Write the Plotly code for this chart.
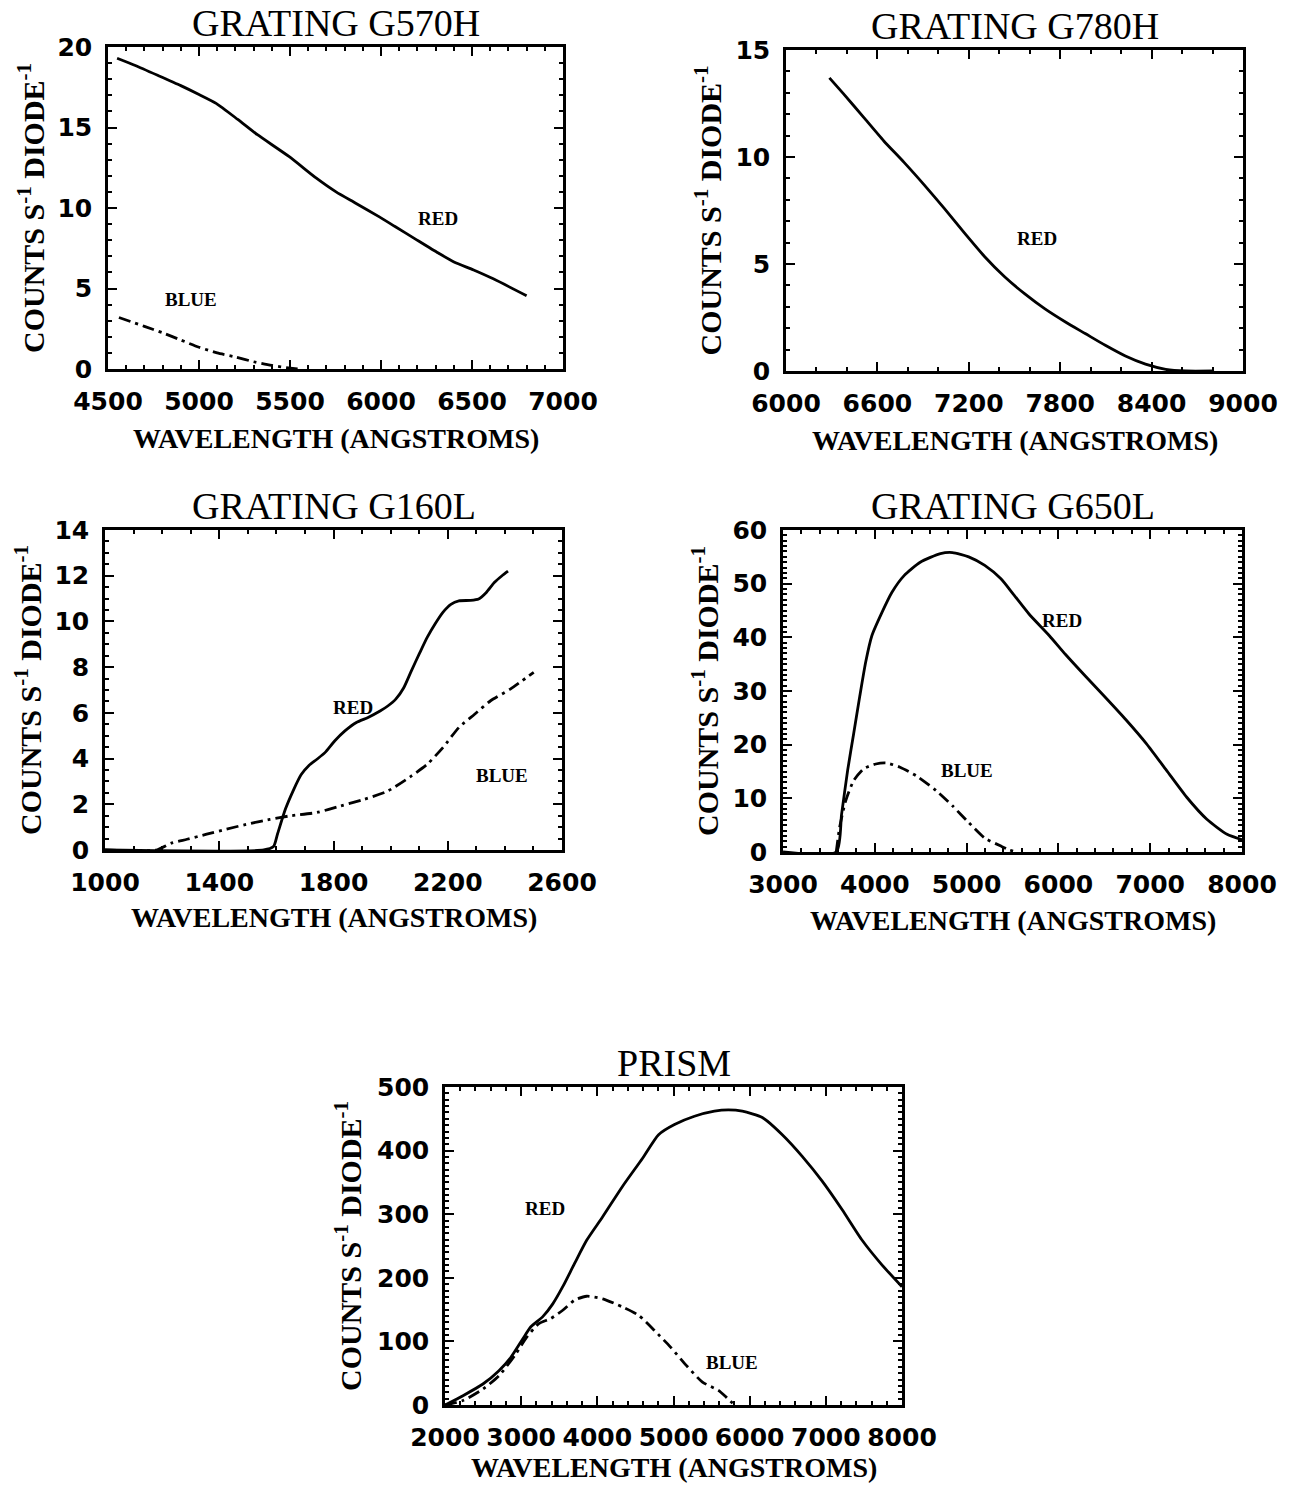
import plotly.graph_objects as go

# ---------------------------------------------------------------------------
# Count rates (counts s^-1 diode^-1) versus wavelength (Angstroms)
# ---------------------------------------------------------------------------
G570H_RED_WL = [4550, 4650, 4781, 4900, 5000, 5094, 5213, 5321, 5494, 5645,
                5753, 5861, 5991, 6077, 6185, 6315, 6401, 6509, 6617, 6800]
G570H_RED_CNT = [19.3, 18.85, 18.2, 17.6, 17.05, 16.5, 15.5, 14.55, 13.2, 11.85,
                 11.0, 10.3, 9.45, 8.85, 8.1, 7.2, 6.65, 6.15, 5.6, 4.55]
G570H_BLUE_WL = [4560, 4700, 4800, 4900, 5000, 5100, 5200, 5300, 5400, 5500, 5560]
G570H_BLUE_CNT = [3.2, 2.65, 2.25, 1.8, 1.35, 1.0, 0.75, 0.45, 0.22, 0.05, 0.0]

G780H_RED_WL = [6285, 6378, 6510, 6642, 6775, 6907, 7039, 7171, 7303, 7435,
                7568, 7700, 7832, 7964, 8096, 8228, 8360, 8493, 8625, 8810]
G780H_RED_CNT = [13.7, 12.95, 11.85, 10.75, 9.75, 8.7, 7.6, 6.45, 5.35, 4.4,
                 3.6, 2.9, 2.3, 1.75, 1.2, 0.7, 0.32, 0.08, 0.0, 0.0]

G160L_RED_WL = [1000, 1556, 1590, 1604, 1632, 1659, 1687, 1714, 1742, 1770,
                1804, 1839, 1880, 1921, 1963, 1990, 2018, 2046, 2073, 2101,
                2128, 2156, 2183, 2211, 2239, 2280, 2308, 2335, 2363, 2390, 2411]
G160L_RED_CNT = [0, 0, 0.15, 0.7, 1.8, 2.6, 3.3, 3.7, 3.97, 4.26,
                 4.77, 5.2, 5.58, 5.8, 6.08, 6.3, 6.6, 7.1, 7.85, 8.6,
                 9.3, 9.9, 10.4, 10.75, 10.9, 10.92, 10.98, 11.27, 11.7, 12.0, 12.2]
G160L_BLUE_WL = [1000, 1180, 1232, 1287, 1356, 1425, 1494, 1577, 1646, 1742,
                 1825, 1908, 1990, 2073, 2128, 2183, 2239, 2294, 2350, 2419, 2501]
G160L_BLUE_CNT = [0, 0, 0.3, 0.47, 0.69, 0.91, 1.12, 1.34, 1.49, 1.64,
                  1.93, 2.22, 2.58, 3.24, 3.75, 4.48, 5.36, 5.94, 6.53, 7.04, 7.77]

G650L_RED_WL = [3000, 3580, 3638, 3704, 3770, 3836, 3902, 3968, 4077, 4187,
                4319, 4495, 4715, 4846, 5023, 5198, 5374, 5506, 5682, 5902,
                6078, 6298, 6518, 6738, 6958, 7178, 7398, 7617, 7837, 8000]
G650L_RED_CNT = [0, 0, 7.0, 15.2, 22.1, 29.0, 35.5, 40.3, 44.6, 48.4,
                 51.5, 54.0, 55.6, 55.8, 55.0, 53.4, 50.9, 48.1, 44.3, 40.3,
                 36.8, 32.7, 28.7, 24.6, 20.2, 15.2, 10.2, 6.1, 3.3, 2.3]
G650L_BLUE_WL = [3580, 3616, 3682, 3770, 3880, 4011, 4121, 4275, 4451, 4671,
                 4846, 5023, 5198, 5374, 5462, 5550]
G650L_BLUE_CNT = [0, 4.5, 9.5, 13.3, 15.5, 16.4, 16.6, 15.8, 14.2, 11.4,
                  8.6, 5.5, 2.6, 1.1, 0.4, 0.0]

PRISM_RED_WL = [2000, 2236, 2498, 2708, 2865, 3022, 3127, 3284, 3415, 3546,
                3703, 3860, 4070, 4332, 4594, 4804, 5013, 5275, 5537, 5720,
                5904, 6166, 6428, 6690, 6952, 7215, 7477, 7739, 8000]
PRISM_RED_CNT = [0, 14.7, 33, 54, 75, 104, 123, 139, 159, 186,
                 223, 259, 296, 344, 388, 425, 441, 454, 462, 464,
                 462, 452, 425, 391, 352, 307, 259, 220, 186]
PRISM_BLUE_WL = [2000, 2236, 2498, 2708, 2917, 3075, 3232, 3389, 3546, 3703,
                 3860, 4070, 4332, 4542, 4752, 4961, 5171, 5380, 5590, 5695, 5800]
PRISM_BLUE_CNT = [0, 7, 25, 46, 78, 107, 128, 136, 149, 165,
                  171, 167, 154, 141, 117, 91, 62, 36, 23, 12, 0]

TITLES = ["GRATING G570H", "GRATING G780H", "GRATING G160L", "GRATING G650L", "PRISM"]
X_TITLE = "WAVELENGTH (ANGSTROMS)"
Y_TITLE = "COUNTS S<sup>-1</sup> DIODE<sup>-1</sup>"

# ---------------------------------------------------------------------------
# Page geometry (pixels) and styling
# ---------------------------------------------------------------------------
W, H = 1295, 1487
SERIF = "Liberation Serif"
TICK_FONT = dict(family="DejaVu Sans", size=25, color="black", weight="bold")
DASHDOT = "12px,5px,3px,5px"


def px_x(v):
    return v / W


def px_y(v):
    return 1 - v / H


PANELS = [
    dict(box=(108, 47, 563, 369), xr=(4500, 7000), xd=500, xm=100, yr=(0, 20), yd=5, ym=1,
         ytitle_x=31, xtitle_dy=69,
         series=[(G570H_RED_WL, G570H_RED_CNT, "solid"), (G570H_BLUE_WL, G570H_BLUE_CNT, DASHDOT)],
         labels=[("RED", 6315, 9.36), ("BLUE", 4954, 4.3)]),
    dict(box=(786, 50, 1243, 371), xr=(6000, 9000), xd=600, xm=200, yr=(0, 15), yd=5, ym=1,
         ytitle_x=709, xtitle_dy=69,
         series=[(G780H_RED_WL, G780H_RED_CNT, "solid")],
         labels=[("RED", 7647, 6.2)]),
    dict(box=(105, 530, 562, 850), xr=(1000, 2600), xd=400, xm=100, yr=(0, 14), yd=2, ym=0.5,
         ytitle_x=28, xtitle_dy=68,
         series=[(G160L_RED_WL, G160L_RED_CNT, "solid"), (G160L_BLUE_WL, G160L_BLUE_CNT, DASHDOT)],
         labels=[("RED", 1870, 6.23), ("BLUE", 2390, 3.24)]),
    dict(box=(783, 530, 1242, 852), xr=(3000, 8000), xd=1000, xm=200, yr=(0, 60), yd=10, ym=1,
         ytitle_x=705, xtitle_dy=68,
         series=[(G650L_RED_WL, G650L_RED_CNT, "solid"), (G650L_BLUE_WL, G650L_BLUE_CNT, DASHDOT)],
         labels=[("RED", 6034, 43.1), ("BLUE", 5001, 15.2)]),
    dict(box=(445, 1087, 902, 1405), xr=(2000, 8000), xd=1000, xm=200, yr=(0, 500), yd=100, ym=10,
         ytitle_x=348, xtitle_dy=62,
         series=[(PRISM_RED_WL, PRISM_RED_CNT, "solid"), (PRISM_BLUE_WL, PRISM_BLUE_CNT, DASHDOT)],
         labels=[("RED", 3310, 309), ("BLUE", 5773, 67)]),
]

fig = go.Figure()
annotations = []


def axis_style(rng, dtick, minor_dtick, standoff):
    return dict(
        range=list(rng), dtick=dtick, tick0=rng[0], autorange=False, automargin=False,
        showline=True, linecolor="black", linewidth=2.5, mirror="allticks",
        ticks="inside", ticklen=9, tickwidth=2, tickcolor="black",
        showgrid=False, zeroline=False, tickfont=TICK_FONT, ticklabelstandoff=standoff,
        minor=dict(ticks="inside", ticklen=4, tickwidth=1.5, tickcolor="black",
                   dtick=minor_dtick, tick0=rng[0], showgrid=False),
        fixedrange=True,
    )


for i, (p, title) in enumerate(zip(PANELS, TITLES), start=1):
    sfx = "" if i == 1 else str(i)
    xa, ya = "x" + sfx, "y" + sfx
    left, top, right, bottom = p["box"]

    for wl, cnt, dash in p["series"]:
        fig.add_trace(go.Scatter(
            x=wl, y=cnt, mode="lines", xaxis=xa, yaxis=ya,
            line=dict(color="black", width=2.8, dash=dash, shape="spline", smoothing=0.6),
            hoverinfo="skip", showlegend=False,
        ))

    xax = axis_style(p["xr"], p["xd"], p["xm"], 8)
    xax.update(domain=[px_x(left), px_x(right)], anchor=ya)
    yax = axis_style(p["yr"], p["yd"], p["ym"], 8)
    yax.update(domain=[px_y(bottom), px_y(top)], anchor=xa)
    fig.layout["xaxis" + sfx] = xax
    fig.layout["yaxis" + sfx] = yax

    cx = (left + right) / 2
    cy = (top + bottom) / 2
    # panel title
    annotations.append(dict(
        text=title, x=px_x(cx), y=px_y(top - 24), xref="paper", yref="paper",
        xanchor="center", yanchor="middle", showarrow=False,
        font=dict(family=SERIF, size=38, color="black"),
    ))
    # x-axis title
    annotations.append(dict(
        text=X_TITLE, x=px_x(cx), y=px_y(bottom + p["xtitle_dy"]), xref="paper", yref="paper",
        xanchor="center", yanchor="middle", showarrow=False,
        font=dict(family=SERIF, size=28, color="black", weight="bold"),
    ))
    # y-axis title
    annotations.append(dict(
        text=Y_TITLE, x=px_x(p["ytitle_x"]), y=px_y(cy), xref="paper", yref="paper",
        xanchor="center", yanchor="middle", textangle=-90, showarrow=False,
        font=dict(family=SERIF, size=30, color="black", weight="bold"),
    ))
    # curve labels
    for text, lx, ly in p["labels"]:
        annotations.append(dict(
            text=text, x=lx, y=ly, xref=xa, yref=ya,
            xanchor="center", yanchor="middle", showarrow=False,
            font=dict(family=SERIF, size=19, color="black", weight="bold"),
        ))

fig.update_layout(
    template="none",
    width=W, height=H,
    margin=dict(l=0, r=0, t=0, b=0),
    paper_bgcolor="white", plot_bgcolor="white",
    showlegend=False,
    annotations=annotations,
)

fig.write_html("out.html", config=dict(displayModeBar=False))
